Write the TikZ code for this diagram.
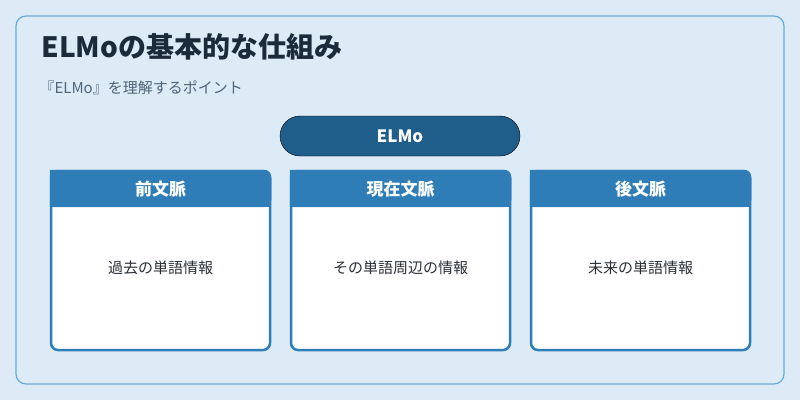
\documentclass[tikz,border=0pt]{standalone}
\usepackage{fontspec}
\setmainfont{Noto Sans CJK JP}
\newfontfamily\cjkbold[BoldFont={Noto Sans CJK JP Bold}]{Noto Sans CJK JP}
\definecolor{bgBlue}{HTML}{DCEBF6}
\definecolor{edgeBlue}{HTML}{6AA9D6}
\definecolor{darkBlue}{HTML}{1F5D8A}
\definecolor{midBlue}{HTML}{2E7DB6}
\definecolor{titleInk}{HTML}{1B2B3A}
\definecolor{subInk}{HTML}{4F6478}
\definecolor{bodyInk}{HTML}{2A2F36}
\begin{document}
\begin{tikzpicture}[x=1pt,y=-1pt,%%
  frameStyle/.style={draw=edgeBlue,fill=bgBlue,line width=1.2pt,rounded corners=10pt},%%
  pillStyle/.style={fill=darkBlue,rounded corners=20pt,text=white,font=\fontsize{17}{20}\selectfont\bfseries},%%
  boxStyle/.style={draw=midBlue,fill=white,line width=2.5pt,rounded corners=7pt},%%
  headStyle/.style={text=white,font=\fontsize{17}{20}\selectfont\bfseries},%%
  bodyStyle/.style={text=bodyInk,font=\fontsize{15}{18}\selectfont}%%
]
%%
\useasboundingbox (0,0) rectangle (800,400);
\fill[bgBlue] (0,0) rectangle (800,400);
%% Outer frame and titles.
\draw[frameStyle] (16,16) rectangle (784,384);
\node[anchor=west,text=titleInk,font=\fontsize{28}{32}\selectfont\bfseries] (title) at (38,47) {ELMoの基本的な仕組み};
\node[anchor=west,text=subInk,font=\fontsize{15}{18}\selectfont] (subtitle) at (36,88) {『ELMo』を理解するポイント};
%% Top pill.
\draw[pillStyle] (280,116) rectangle (520,156);
\node[pillStyle,fill=none] (elmo) at (400,136) {ELMo};
%% Three context boxes.
\foreach \x/\head/\body/\name in {51/前文脈/過去の単語情報/prev,291/現在文脈/その単語周辺の情報/curr,531/後文脈/未来の単語情報/next}{
  \draw[boxStyle] (\x,171) rectangle (\x+219,350);
  \fill[midBlue,rounded corners=7pt] (\x-1.25,169.75) -- (\x+220.25,169.75) -- (\x+220.25,207) [sharp corners] -- (\x-1.25,207) -- cycle;
  \fill[midBlue] (\x-1.25,195) rectangle (\x+220.25,207);
  \node[headStyle] (\name Head) at (\x+109.5,189) {\head};
  \node[bodyStyle] (\name Body) at (\x+109.5,268) {\body};
}
\end{tikzpicture}
\end{document}
